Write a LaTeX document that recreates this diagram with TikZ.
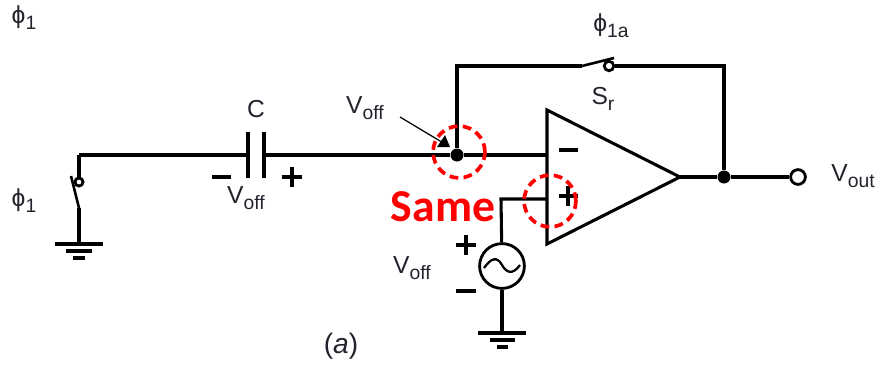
\documentclass[tikz,border=0pt]{standalone}
\usepackage{fontspec}
\setmainfont{Liberation Sans}
\newfontfamily\samefont{Carlito}
\usepackage{xcolor}
\definecolor{samered}{RGB}{255,0,0}
\definecolor{labelgray}{RGB}{35,35,45}
\newcommand{\lowsub}[1]{\raisebox{-0.45ex}{\fontsize{11}{11}\selectfont #1}}
\tikzset{
    wire/.style={black,line width=2pt},
    thinwire/.style={black,line width=1.5pt},
    signmark/.style={black,line width=2.2pt},
    dot/.style={circle,fill=black,inner sep=0pt,minimum size=7.4pt},
    openpin/.style={circle,draw=black,fill=white,line width=1.6pt,inner sep=0pt,minimum size=#1},
    samering/.style={circle,draw=samered,line width=2.1pt,dash pattern=on 5pt off 3pt,inner sep=0pt,minimum size=29.5pt},
    lab/.style={text=labelgray,inner sep=0pt,font=\fontsize{14}{14}\selectfont},
}
\begin{document}
\begin{tikzpicture}[x=0.02cm,y=-0.02cm]
            \useasboundingbox (0,0) rectangle (885,369);

            % left switch and ground
            \coordinate (topleft) at (79,155);
            \node[openpin=4.6pt] (swleftpin) at (79,182) {};
            \coordinate (swleftarm) at (71,176);
            \coordinate (swleftfoot) at (79,208);
            \coordinate (gndleft) at (79,244);
            \draw[wire] (topleft) -- (swleftpin);
            \draw[wire] (swleftfoot) -- (gndleft);
            \draw[thinwire] (swleftarm) -- (swleftfoot);
            \draw[wire] (55,244) -- (103,244);
            \draw[wire] (66,251) -- (92,251);
            \draw[wire] (73,258) -- (85,258);

            % capacitor
            \coordinate (capl) at (248,155);
            \coordinate (capr) at (264,155);
            \draw[black,line width=2.4pt] (248,132) -- (248,178);
            \draw[black,line width=2.4pt] (264,132) -- (264,178);
            \draw[wire] (topleft) -- (capl);

            % opamp
            \coordinate (opa) at (547,110);
            \coordinate (opb) at (547,244);
            \coordinate (opout) at (680,177);
            \coordinate (inminus) at (547,155);
            \coordinate (inplus) at (547,199);
            \draw[black,line width=1.75pt,line join=miter] (opa) -- (opout) -- (opb) -- cycle;

            % feedback loop
            \node[dot] (nodevoff) at (457,155) {};
            \node[dot] (nodeout) at (724,177) {};
            \coordinate (fbleft) at (457,66);
            \coordinate (swfbfoot) at (582,66);
            \coordinate (swfbarm) at (614,58);
            \node[openpin=5.4pt] (swfbpin) at (609,66) {};
            \coordinate (fbright) at (724,66);
            \draw[wire] (capr) -- (nodevoff) -- (inminus);
            \draw[wire] (nodevoff) -- (fbleft) -- (swfbfoot);
            \draw[thinwire] (swfbfoot) -- (swfbarm);
            \draw[wire] (swfbpin) -- (fbright) -- (nodeout);
            \node[openpin=8.4pt] (outpin) at (798,177) {};
            \draw[black,line width=1.75pt] (opout) -- (nodeout) -- (outpin);

            % source at the plus input
            \node[circle,draw=black,line width=1.6pt,inner sep=0pt,minimum size=25.5pt] (src) at (502,266) {};
            \coordinate (bend) at (501,199);
            \coordinate (gndsrc) at (502,333);
            \draw[black,line width=1.75pt] (inplus) -- (bend) -- (src);
            \draw[wire] (src) -- (gndsrc);
            \draw[black,line width=1.3pt] (484,268) .. controls (491,258) and (497,256) .. (502,265)
                .. controls (506,272) and (512,276) .. (520,265);
            \draw[wire] (478,333) -- (526,333);
            \draw[wire] (490,340) -- (515,340);
            \draw[wire] (497,347) -- (508,347);

            % plus and minus signs
            \draw[signmark] (212,177) -- (231,177);
            \draw[signmark] (282,177) -- (302,177);
            \draw[signmark] (292,167) -- (292,187);
            \draw[signmark] (559,150) -- (578,150);
            \draw[signmark] (559,196) -- (578,196);
            \draw[signmark] (568,186) -- (568,206);
            \draw[signmark] (456,245) -- (476,245);
            \draw[signmark] (466,235) -- (466,255);
            \draw[signmark] (456,291) -- (476,291);

            % labels
            \node[lab] (phitop) at (24,18) {ϕ\lowsub{1}};
            \node[lab] (phileft) at (24,201) {ϕ\lowsub{1}};
            \node[lab] (phifb) at (611,26) {ϕ\lowsub{1a}};
            \node[lab] (labc) at (256,109) {C};
            \node[lab] (labsr) at (603,99) {S\lowsub{r}};
            \node[lab] (voffcap) at (246,198) {V\lowsub{off}};
            \node[lab] (voffnode) at (365,108) {V\lowsub{off}};
            \node[lab] (voffsrc) at (412,268) {V\lowsub{off}};
            \node[lab] (labout) at (853,176) {V\lowsub{out}};
            \node[lab,font=\fontsize{16}{16}\selectfont] (laba) at (341,346) {(\textit{a})};

            % pointer to the node
            \coordinate (ptrtail) at (400,117);
            \coordinate (ptrtip) at (445,144);
            \draw[black,line width=0.7pt] (ptrtail) -- (ptrtip);
            \fill[black] (437,147) -- (445,135) -- (450,147) -- cycle;

            % red marks
            \node[samering] (ringnode) at (459,152) {};
            \node[samering] (ringplus) at (550,201) {};
            \node[text=samered,inner sep=0pt,font=\samefont\bfseries\fontsize{26}{26}\selectfont] (labsame) at (443,207) {Same};
        \end{tikzpicture}
\end{document}
